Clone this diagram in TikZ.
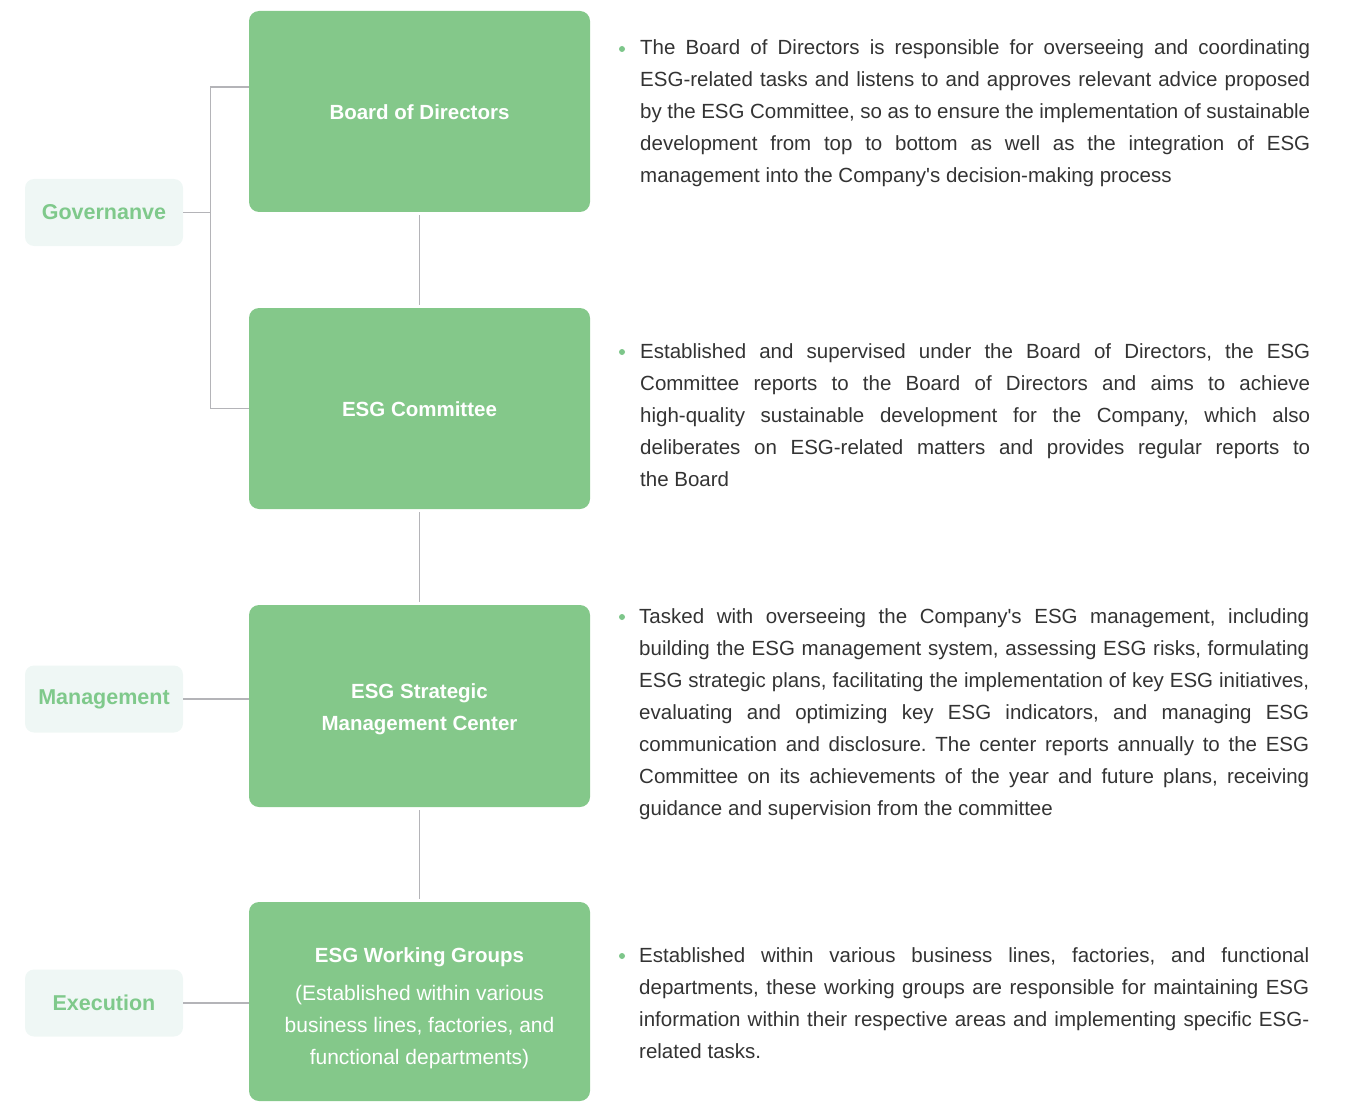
\documentclass[tikz,border=0pt]{standalone}
\usepackage{fontspec}
\setmainfont{Liberation Sans}
\usetikzlibrary{calc}
\definecolor{boxgreen}{HTML}{84C88A}
\definecolor{labelfill}{HTML}{EFF7F5}
\definecolor{labeltext}{HTML}{7FC98B}
\definecolor{linegray}{HTML}{B4B4B8}
\definecolor{bodytext}{HTML}{333333}
\definecolor{dotgreen}{HTML}{7DC68A}
\tikzset{
  mainbox/.style={fill=boxgreen, rounded corners=10pt, minimum width=341pt, inner sep=0pt,
    text=white, align=center, font=\bfseries\fontsize{20.5}{32}\selectfont},
  tagbox/.style={fill=labelfill, rounded corners=9pt, minimum width=158pt, minimum height=67pt,
    inner sep=0pt, text=labeltext, font=\bfseries\fontsize{21.5}{24}\selectfont},
  conn/.style={draw=linegray, line width=1.8pt},
  desc/.style={anchor=base west, inner sep=0pt, text=bodytext},
  dot/.style={circle, fill=dotgreen, inner sep=0pt, minimum size=6pt},
}
\newcommand{\desctext}[1]{\parbox[t]{670pt}{\frenchspacing\fontsize{20.5}{32}\selectfont #1}}
\newcommand{\subfont}{\mdseries\fontsize{21}{32}\selectfont}
\newcommand{\apos}{\textquotesingle}
\begin{document}
\begin{tikzpicture}[x=1pt,y=-1pt]
\useasboundingbox (0,0) rectangle (1354,1102);
% main boxes
\node[mainbox, minimum height=201pt] (bod) at (419.5,111.5) {\rule{0pt}{17pt}Board of Directors};
\node[mainbox, minimum height=201pt] (com) at (419.5,408.5) {\rule{0pt}{17pt}ESG Committee};
\node[mainbox, minimum height=202pt] (smc) at (419.5,706) {\rule{0pt}{21pt}ESG Strategic\\Management Center};
\node[mainbox, minimum height=199pt] (wg) at (419.5,1001.5) {\rule{0pt}{29pt}ESG Working Groups\\[6pt]
  \subfont (Established within various\\\subfont business lines, factories, and\\\subfont functional departments)};
% level labels
\node[tagbox] (gov) at (104,212.5) {Governanve};
\node[tagbox] (mgt) at (104,699) {Management};
\node[tagbox] (exe) at (104,1003) {Execution};
% connectors
\coordinate (j) at (210.5,212.5);
\draw[conn] (gov.east) -- (j);
\draw[conn] ($(bod.west)+(0,-24.5)$) -| (j) |- (com.west);
\draw[conn, shorten <=3pt, shorten >=3pt] (bod.south) -- (com.north);
\draw[conn, shorten <=3pt, shorten >=3pt] (com.south) -- (smc.north);
\draw[conn, shorten <=3pt, shorten >=3pt] (smc.south) -- (wg.north);
\draw[conn] (mgt.east) -- (smc.west |- mgt.east);
\draw[conn] (exe.east) -- (wg.west |- exe.east);
% descriptions
\node[dot] (b1) at (622,49) {};
\node[desc] (d1) at (640,55) {\desctext{The Board of Directors is responsible for overseeing and coordinating\linebreak
ESG-related tasks and listens to and approves relevant advice proposed\linebreak
by the ESG Committee, so as to ensure the implementation of sustainable\linebreak
development from top to bottom as well as the integration of ESG\linebreak
management into the Company\apos s decision-making process}};
\node[dot] (b2) at (622,352) {};
\node[desc] (d2) at (640,358) {\desctext{Established and supervised under the Board of Directors, the ESG\linebreak
Committee reports to the Board of Directors and aims to achieve\linebreak
high-quality sustainable development for the Company, which also\linebreak
deliberates on ESG-related matters and provides regular reports to\linebreak
the Board}};
\node[dot] (b3) at (622,617) {};
\node[desc] (d3) at (639,623) {\desctext{Tasked with overseeing the Company\apos s ESG management, including\linebreak
building the ESG management system, assessing ESG risks, formulating\linebreak
ESG strategic plans, facilitating the implementation of key ESG initiatives,\linebreak
evaluating and optimizing key ESG indicators, and managing ESG\linebreak
communication and disclosure. The center reports annually to the ESG\linebreak
Committee on its achievements of the year and future plans, receiving\linebreak
guidance and supervision from the committee}};
\node[dot] (b4) at (622,956) {};
\node[desc] (d4) at (639,962) {\desctext{Established within various business lines, factories, and functional\linebreak
departments, these working groups are responsible for maintaining ESG\linebreak
information within their respective areas and implementing specific ESG-\linebreak
related tasks.}};
\end{tikzpicture}
\end{document}
